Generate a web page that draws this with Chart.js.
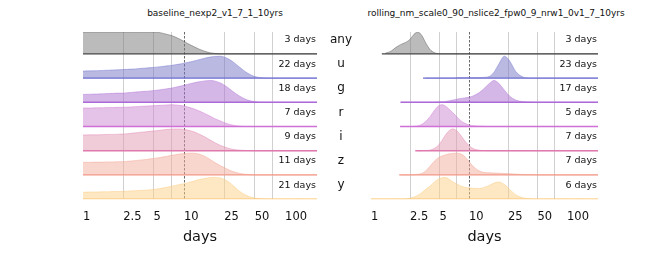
<!DOCTYPE html>
<html>
<head>
<meta charset="utf-8">
<script src="https://cdn.jsdelivr.net/npm/chart.js@4"></script>
<style>
  body { margin: 0; background: #fff; }
  #wrap { position: relative; width: 664px; height: 266px; font-family: "DejaVu Sans", sans-serif; }
  canvas { position: absolute; top: 0; }
  #left-chart { left: 0; }
  #right-chart { left: 360px; }
  .title { position: absolute; top: 7px; font-size: 9px; line-height: 12px; text-align: center; white-space: nowrap; color: #111; }
</style>
</head>
<body>
<div id="wrap">
  <div class="title" style="left:0;width:430px">baseline_nexp2_v1_7_1_10yrs</div>
  <div class="title" style="left:364px;width:264px">rolling_nm_scale0_90_nslice2_fpw0_9_nrw1_0v1_7_10yrs</div>
  <canvas id="left-chart" width="360" height="266"></canvas>
  <canvas id="right-chart" width="304" height="266"></canvas>
</div>
<script>
/**
 * Ridgeline de tiempos entre visitas, dos simulaciones
 */

const rowNames = ["any", "u", "g", "r", "i", "z", "y"];

// dias donde se leyo la densidad
const days = [1, 1.2, 1.4, 1.6, 1.8, 2, 2.25, 2.5, 2.75, 3, 3.3, 3.6, 4, 4.4, 4.8,
  5.3, 5.8, 6.3, 6.8, 7.5, 8.2, 9, 10, 11, 12.5, 14, 16, 18, 20, 23, 26, 30, 35,
  42, 50, 60, 75, 100, 140, 210];

const tickLabels = [1, 2.5, 5, 10, 25, 50, 100];
const gridDays = [2.5, 5, 7.5, 10, 25, 50, 75];

// panel izquierdo: baseline_nexp2_v1_7_1_10yrs (altura normalizada)
const leftAny = [1, 1, 1, 1, 1, 1, 1, 1, 1, 1, 1, 1, 1, 1, 1, 0.99, 0.97, 0.93, 0.89, 0.84,
  0.77, 0.68, 0.57, 0.46, 0.33, 0.22, 0.12, 0.05, 0.02, 0, 0, 0, 0, 0, 0, 0, 0, 0, 0, 0];
const leftU = [0.32, 0.33, 0.34, 0.35, 0.36, 0.37, 0.38, 0.39, 0.40, 0.41, 0.42, 0.44, 0.45,
  0.47, 0.48, 0.50, 0.52, 0.54, 0.56, 0.58, 0.61, 0.64, 0.68, 0.72, 0.78, 0.84, 0.91, 0.96,
  0.99, 1.0, 0.93, 0.77, 0.52, 0.24, 0.07, 0.01, 0, 0, 0, 0];
const leftG = [0.36, 0.37, 0.38, 0.39, 0.40, 0.41, 0.42, 0.42, 0.44, 0.45, 0.47, 0.48, 0.50,
  0.51, 0.53, 0.55, 0.57, 0.60, 0.62, 0.65, 0.69, 0.73, 0.78, 0.83, 0.89, 0.94, 0.98, 1.0,
  0.98, 0.88, 0.74, 0.52, 0.30, 0.11, 0.03, 0, 0, 0, 0, 0];
const leftR = [0.85, 0.85, 0.86, 0.86, 0.87, 0.87, 0.88, 0.88, 0.89, 0.90, 0.91, 0.92, 0.93,
  0.94, 0.95, 0.96, 0.97, 0.98, 0.99, 1.0, 0.99, 0.97, 0.94, 0.89, 0.81, 0.72, 0.60, 0.48,
  0.37, 0.25, 0.15, 0.07, 0.02, 0, 0, 0, 0, 0, 0, 0];
const leftI = [0.72, 0.73, 0.73, 0.74, 0.75, 0.75, 0.76, 0.77, 0.78, 0.80, 0.82, 0.84, 0.86,
  0.88, 0.90, 0.92, 0.94, 0.96, 0.98, 0.99, 1.0, 1.0, 0.98, 0.94, 0.87, 0.77, 0.64, 0.50,
  0.38, 0.24, 0.15, 0.07, 0.03, 0.01, 0, 0, 0, 0, 0, 0];
const leftZ = [0.58, 0.58, 0.59, 0.59, 0.60, 0.60, 0.61, 0.61, 0.63, 0.64, 0.66, 0.68, 0.70,
  0.72, 0.75, 0.77, 0.80, 0.83, 0.86, 0.90, 0.93, 0.96, 0.98, 1.0, 1.0, 0.96, 0.86, 0.72,
  0.58, 0.42, 0.30, 0.17, 0.08, 0.02, 0, 0, 0, 0, 0, 0];
const leftY = [0.32, 0.33, 0.33, 0.34, 0.34, 0.35, 0.35, 0.36, 0.37, 0.38, 0.39, 0.40, 0.41,
  0.42, 0.44, 0.46, 0.49, 0.52, 0.55, 0.59, 0.63, 0.67, 0.71, 0.76, 0.83, 0.90, 0.95, 0.99,
  1.0, 0.97, 0.87, 0.66, 0.38, 0.16, 0.05, 0.01, 0, 0, 0, 0];
const leftStart = [1, 1, 1, 1, 1, 1, 1];
const leftMedian = [3, 22, 18, 7, 9, 11, 21];

// panel derecho: rolling_nm_scale0_90_... (null = sin datos)
const rightAny = [null, null, 0.03, 0.12, 0.30, 0.42, 0.52, 0.66, 0.90, 1.0, 0.84, 0.52, 0.20,
  0.06, 0.01, 0, 0, 0, 0, 0, 0, 0, 0, 0, 0, 0, 0, 0, 0, 0, 0, 0, 0, 0, 0, 0, 0, 0, 0, 0];
const rightU = [null, null, null, null, null, null, null, null, null, null, null, 0, 0, 0, 0,
  0, 0, 0, 0, 0.01, 0.02, 0.02, 0.02, 0.02, 0.02, 0.03, 0.07, 0.27, 0.62, 1.0, 0.78, 0.30,
  0.06, 0, 0, 0, 0, 0, 0, 0];
const rightG = [null, null, null, null, null, 0, 0, 0, 0, 0, 0, 0, 0, 0, 0.01, 0.02, 0.04,
  0.07, 0.10, 0.14, 0.17, 0.20, 0.23, 0.29, 0.42, 0.60, 0.85, 1.0, 0.88, 0.55, 0.28, 0.10,
  0.03, 0.01, 0, 0, 0, 0, 0, 0];
const rightR = [null, null, null, null, null, 0, 0, 0, 0.01, 0.03, 0.10, 0.23, 0.45, 0.72,
  0.92, 1.0, 0.93, 0.78, 0.64, 0.45, 0.28, 0.16, 0.07, 0.04, 0.02, 0.01, 0, 0, 0, 0, 0, 0,
  0, 0, 0, 0, 0, 0, 0, 0];
const rightI = [null, null, null, null, null, null, null, null, null, 0, 0, 0.01, 0.03, 0.10,
  0.22, 0.47, 0.75, 0.93, 1.0, 0.92, 0.72, 0.47, 0.24, 0.10, 0.03, 0.01, 0, 0, 0, 0, 0, 0,
  0, 0, 0, 0, 0, 0, 0, 0];
const rightZ = [null, null, null, null, null, 0, 0, 0, 0.01, 0.03, 0.07, 0.18, 0.40, 0.62,
  0.77, 0.87, 0.93, 0.97, 0.99, 1.0, 0.97, 0.86, 0.62, 0.40, 0.20, 0.12, 0.10, 0.09, 0.08,
  0.07, 0.06, 0.04, 0.02, 0.01, 0, 0, 0, 0, 0, 0];
const rightY = [0, 0, 0, 0, 0, 0, 0.01, 0.04, 0.10, 0.18, 0.30, 0.44, 0.60, 0.77, 0.90, 0.98,
  0.99, 0.91, 0.80, 0.70, 0.61, 0.55, 0.52, 0.50, 0.49, 0.53, 0.63, 0.74, 0.79, 0.67, 0.45,
  0.20, 0.07, 0.02, 0, 0, 0, 0, 0, 0];
const rightStart = [1.29, 3.4, 2.0, 1.98, 2.83, 1.94, 1.0];
const rightMedian = [3, 23, 17, 5, 7, 7, 6];

const fillColors = [
  "rgba(120, 120, 120, 0.5)",
  "rgba(115, 115, 195, 0.5)",
  "rgba(170, 112, 206, 0.5)",
  "rgba(203, 134, 207, 0.5)",
  "rgba(226, 152, 178, 0.5)",
  "rgba(242, 172, 156, 0.5)",
  "rgba(253, 210, 138, 0.5)",
];
const lineColors = ["#444444", "#6b6bd0", "#ac6ad8", "#d070d6", "#e07aae", "#f29a88", "#fbc46e"];

const ridgeHeight = 0.9;
const xMax = 207;

Chart.defaults.font.family = '"DejaVu Sans", sans-serif';
Chart.defaults.color = "#111";

const ridgeLabels = {
  id: "ridgeLabels",
  afterDatasetsDraw(chart, args, opts) {
    const { ctx, chartArea } = chart;
    const y = chart.scales.y;
    ctx.save();
    ctx.fillStyle = "#111";
    ctx.textBaseline = "alphabetic";
    ctx.font = '9.5px "DejaVu Sans"';
    ctx.textAlign = "right";
    opts.medians.forEach((m, i) => {
      const yb = y.getPixelForValue(rowNames.length - 1 - i);
      ctx.fillText(m + " days", chartArea.right - 1, yb - 11.5);
    });
    if (opts.showRows) {
      ctx.font = '12px "DejaVu Sans"';
      ctx.textAlign = "center";
      rowNames.forEach((r, i) => {
        const yb = y.getPixelForValue(rowNames.length - 1 - i);
        ctx.fillText(r, chartArea.right + 24, yb - 11);
      });
    }
    ctx.restore();
  },
};

function makeRidges(canvasId, rows, starts, medians, showRows, padLeft, padRight) {
  const baselineSets = [];
  const curveSets = [];
  rows.forEach((vals, i) => {
    const base = rows.length - 1 - i;
    baselineSets.push({
      data: [{ x: starts[i], y: base }, { x: days[days.length - 1], y: base }],
      borderColor: lineColors[i],
      borderWidth: 1.3,
      pointRadius: 0,
      fill: false,
    });
    curveSets.push({
      data: days
        .map((d, k) => (vals[k] === null ? null : { x: d, y: base + ridgeHeight * vals[k] }))
        .filter((p) => p !== null),
      borderColor: lineColors[i] + "80",
      borderWidth: 0.8,
      backgroundColor: fillColors[i],
      fill: { value: base },
      pointRadius: 0,
      cubicInterpolationMode: "monotone",
    });
  });

  return new Chart(document.querySelector(canvasId).getContext("2d"), {
    type: "line",
    data: { datasets: baselineSets.concat(curveSets) },
    options: {
      responsive: false,
      animation: false,
      events: [],
      layout: { padding: { left: padLeft, right: padRight, top: 32, bottom: 19.6 } },
      plugins: {
        legend: { display: false },
        tooltip: { enabled: false },
        ridgeLabels: { medians: medians, showRows: showRows },
      },
      scales: {
        x: {
          type: "logarithmic",
          min: 1,
          max: xMax,
          afterBuildTicks: (axis) => {
            axis.ticks = tickLabels.concat(gridDays)
              .filter((v, k, a) => a.indexOf(v) === k)
              .sort((a, b) => a - b)
              .map((v) => ({ value: v }));
          },
          ticks: {
            autoSkip: false,
            maxRotation: 0,
            align: "start",
            padding: 11,
            color: "#111",
            font: { size: 11.5 },
            callback: (v) => (tickLabels.includes(v) ? String(v) : ""),
          },
          grid: {
            drawTicks: false,
            lineWidth: 0.8,
            color: (ctx) => {
              const v = ctx.tick ? ctx.tick.value : null;
              if (!gridDays.includes(v)) return "rgba(0,0,0,0)";
              return v === 10 ? "#444444" : "#c4c4c4";
            },
          },
          border: {
            display: false,
            dash: (ctx) => (ctx.tick && ctx.tick.value === 10 ? [2.5, 1.5] : []),
          },
          title: {
            display: true,
            text: "days",
            color: "#111",
            font: { size: 14.5 },
            padding: { top: -6, bottom: 0 },
          },
        },
        y: {
          display: false,
          min: 0,
          max: 6.9,
        },
      },
    },
    plugins: [ridgeLabels],
  });
}

const leftChart = makeRidges("#left-chart",
  [leftAny, leftU, leftG, leftR, leftI, leftZ, leftY],
  leftStart, leftMedian, true, 83, 43);

const rightChart = makeRidges("#right-chart",
  [rightAny, rightU, rightG, rightR, rightI, rightZ, rightY],
  rightStart, rightMedian, false, 4, 66);
</script>
</body>
</html>
